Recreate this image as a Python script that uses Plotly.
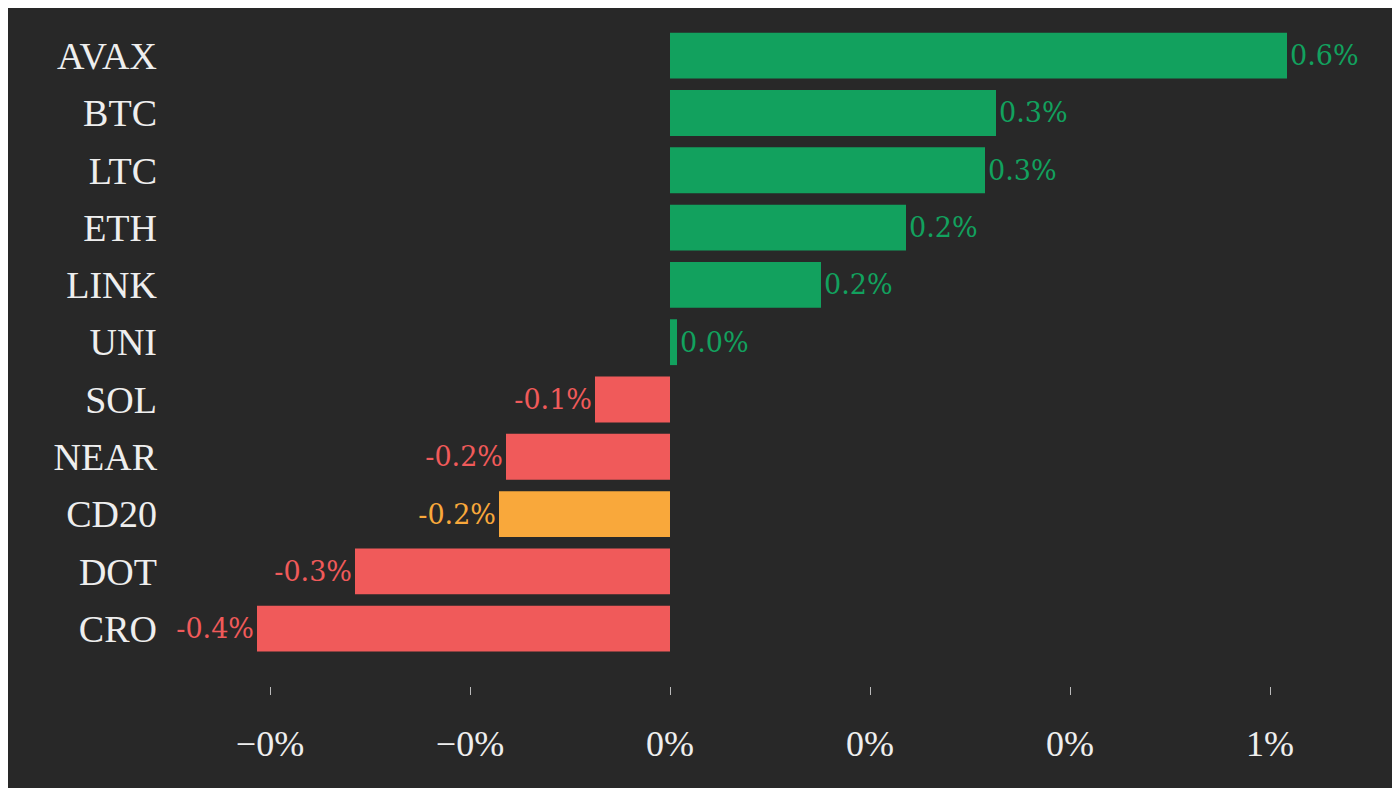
import plotly.graph_objects as go

# 由下到上
coins = ["CRO", "DOT", "CD20", "NEAR", "SOL", "UNI", "LINK", "ETH", "LTC", "BTC", "AVAX"]
changes = [-0.00413, -0.00315, -0.00171, -0.00164, -0.00075, 0.00007, 0.00151, 0.00236, 0.00315, 0.00326, 0.00617]
tick_vals = [-0.004, -0.002, 0, 0.002, 0.004, 0.006]
tick_text = ["−0%", "−0%", "0%", "0%", "0%", "1%"]

def pick(c, v):
    if c == "CD20":
        return "#f9a83b"
    return "#12a15e" if v >= 0 else "#f05a5a"

colors = [pick(c, v) for c, v in zip(coins, changes)]

fig = go.Figure(go.Bar(
    x=changes, y=coins, orientation="h",
    marker=dict(color=colors, line_width=0),
    text=[f"{v*100:.1f}%" for v in changes],
    textposition="outside", cliponaxis=False,
    textfont=dict(color=colors, size=27, family="DejaVu Serif"),
))
fig.update_layout(
    width=1400, height=788, paper_bgcolor="#282828", plot_bgcolor="#282828",
    margin=dict(l=152, r=38, t=19, b=110), bargap=0.2, showlegend=False,
    font=dict(family="Liberation Serif", color="#eeeeee"),
)
fig.update_xaxes(range=[-0.0051, 0.0070], tickvals=tick_vals, ticktext=tick_text,
                 showgrid=False, zeroline=False,
                 ticks="outside", ticklen=8, tickcolor="#bbbbbb", ticklabelstandoff=18,
                 tickfont=dict(size=36))
fig.update_yaxes(range=[-1.0, 10.5], showgrid=False, zeroline=False,
                 tickfont=dict(size=38), ticklabelstandoff=2)
fig.write_html("out.html")
